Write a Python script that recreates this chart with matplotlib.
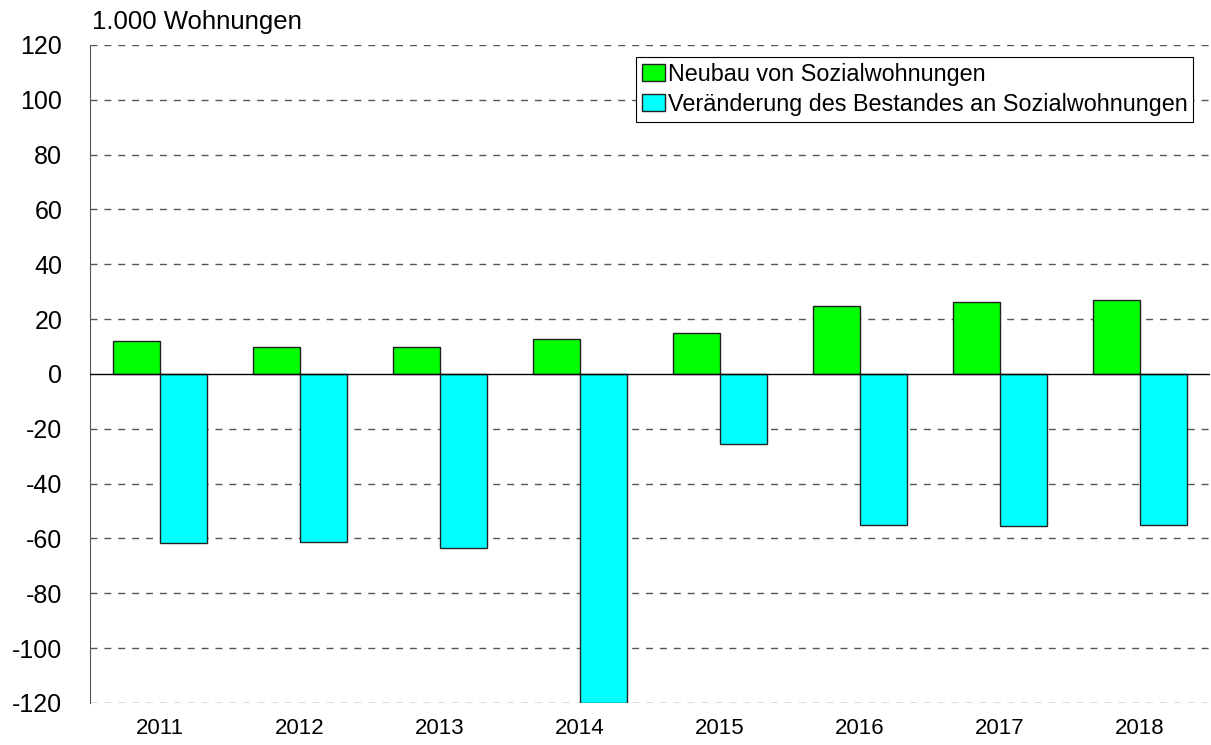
import numpy as np
import matplotlib.pyplot as plt

plt.rcParams['font.family'] = ['Liberation Sans', 'DejaVu Sans']
plt.rcParams['axes.unicode_minus'] = False

years = ['2011', '2012', '2013', '2014', '2015', '2016', '2017', '2018']
neubau = [12.0, 9.8, 9.8, 12.6, 14.8, 24.8, 26.2, 26.9]
bestand = [-61.8, -61.4, -63.5, -120.0, -25.4, -55.2, -55.5, -54.9]

fig = plt.figure(figsize=(12.11, 7.45), dpi=100)
ax = fig.add_axes([0.0743, 0.0564, 0.925, 0.8832])

x = np.arange(len(years))
w = 0.335
ax.bar(x - w / 2, neubau, w, color='#00ff00', edgecolor='#222222', linewidth=1,
       label='Neubau von Sozialwohnungen', zorder=3)
ax.bar(x + w / 2, bestand, w, color='#00ffff', edgecolor='#222222', linewidth=1,
       label='Veränderung des Bestandes an Sozialwohnungen', zorder=3)

ax.set_xlim(-0.5, len(years) - 0.5)
ax.set_ylim(-120, 120)
ax.set_yticks(np.arange(-120, 121, 20))
ax.set_xticks(x)
ax.set_xticklabels(years, fontsize=16)
ax.tick_params(axis='y', labelsize=18, length=0, pad=20)
ax.tick_params(axis='x', length=0, pad=11)

for yv in np.arange(-120, 121, 20):
    if yv != 0:
        ax.axhline(yv, color='#555555', linestyle=(0, (5, 5)), linewidth=1, zorder=1)
ax.axhline(0, color='black', linewidth=1, zorder=4)

for s in ['top', 'right', 'bottom']:
    ax.spines[s].set_visible(False)
ax.spines['left'].set_color('#555555')

ax.text(0.002, 1.016, '1.000 Wohnungen', transform=ax.transAxes, fontsize=18.5,
        ha='left', va='bottom')

leg = ax.legend(loc='upper right', bbox_to_anchor=(0.985, 0.982), fontsize=16.8,
                frameon=True, fancybox=False, framealpha=1, edgecolor='black',
                handlelength=1.0, handleheight=0.8, handletextpad=0.12,
                borderpad=0.25, labelspacing=0.3, borderaxespad=0)
leg.get_frame().set_linewidth(0.8)

fig.savefig('out.png', dpi=100)
